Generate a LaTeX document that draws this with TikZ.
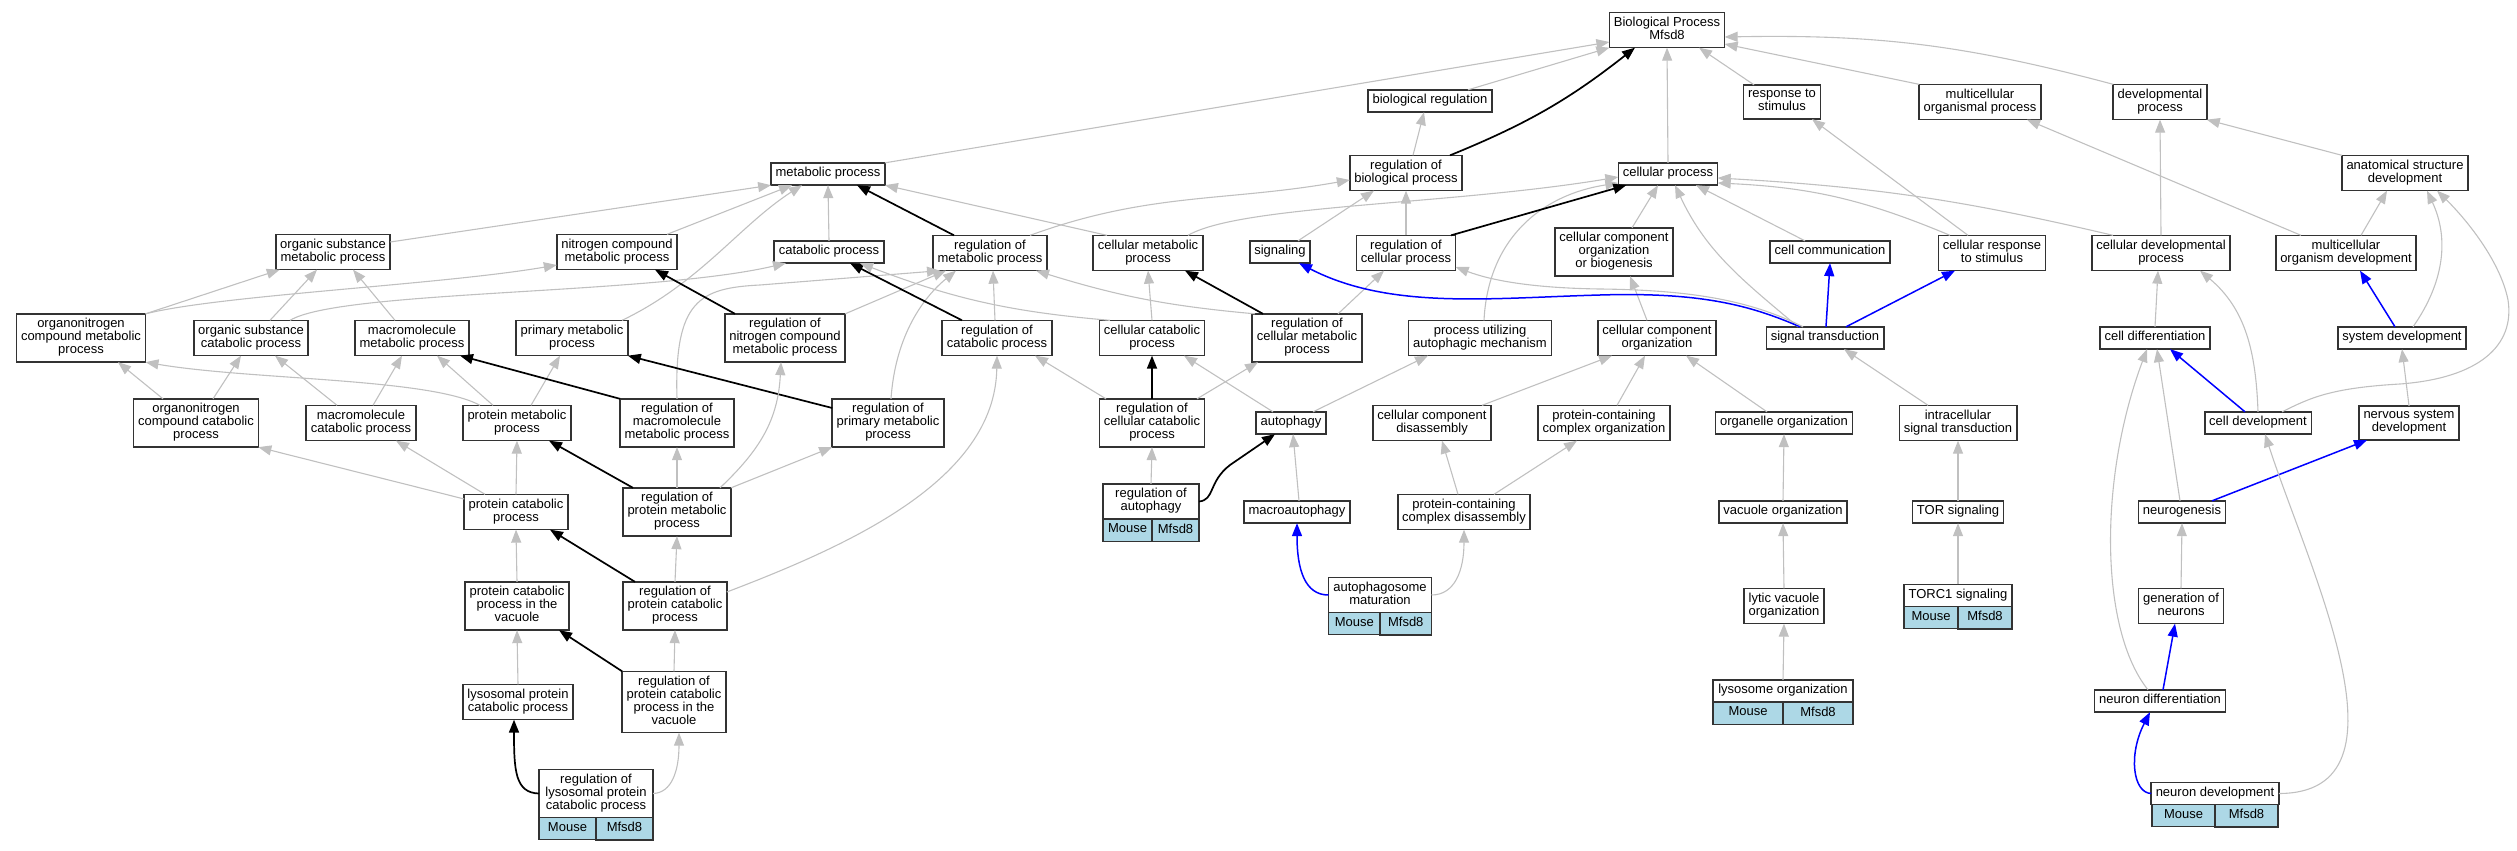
\documentclass[tikz,border=0pt]{standalone}
\usepackage{fontspec}
\setmainfont{Liberation Sans}
\usetikzlibrary{arrows.meta}
\definecolor{isagray}{RGB}{192,192,192}
\definecolor{mouseblue}{RGB}{173,216,230}
\begin{document}
\begin{tikzpicture}[x=1pt, y=1pt,
  term/.style={draw=black!80, line width=1.6pt, fill=white, align=center, inner xsep=4.5pt, inner ysep=4.5pt, outer sep=0pt, font=\fontsize{13}{13}\selectfont, execute at begin node=\strut, execute at end node=\strut},
  cell/.style={draw=black!80, line width=1.3pt, fill=mouseblue, inner xsep=4.5pt, inner ysep=4.5pt, outer sep=0pt, font=\fontsize{13}{13}\selectfont, execute at begin node=\strut},
  isa/.style={draw=isagray, line width=1.1pt, -{Triangle[length=13pt,width=10pt]}},
  reg/.style={draw=black, line width=1.7pt, -{Triangle[length=13pt,width=10pt]}},
  part/.style={draw=blue, line width=1.5pt, -{Triangle[length=13pt,width=10pt]}}]
\useasboundingbox (0,0) rectangle (2517,-851);
% terms
\node[term] (root) at (1667,-30) {Biological Process\\Mfsd8};
\node[term] (bioreg) at (1430,-101) {biological regulation};
\node[term] (rts) at (1782,-102) {response to\\stimulus};
\node[term] (mop) at (1980,-102) {multicellular\\organismal process};
\node[term] (devp) at (2160,-102) {developmental\\process};
\node[term] (mp) at (828,-174) {metabolic process};
\node[term] (rbp) at (1406,-173) {regulation of\\biological process};
\node[term] (cellp) at (1668,-174) {cellular process};
\node[term] (asd) at (2405,-173) {anatomical structure\\development};
\node[term] (osmp) at (333,-252) {organic substance\\metabolic process};
\node[term] (ncmp) at (617,-252) {nitrogen compound\\metabolic process};
\node[term] (cp) at (829,-252) {catabolic process};
\node[term] (rmp) at (990,-253) {regulation of\\metabolic process};
\node[term] (cmp) at (1148,-253) {cellular metabolic\\process};
\node[term] (sig) at (1280,-252) {signaling};
\node[term] (rcellp) at (1406,-253) {regulation of\\cellular process};
\node[term] (ccob) at (1614,-252) {cellular component\\organization\\or biogenesis};
\node[term] (cc) at (1830,-252) {cell communication};
\node[term] (crs) at (1992,-253) {cellular response\\to stimulus};
\node[term] (cdp) at (2161,-253) {cellular developmental\\process};
\node[term] (mod) at (2346,-253) {multicellular\\organism development};
\node[term] (oncmp) at (81,-338) {organonitrogen\\compound metabolic\\process};
\node[term] (oscp) at (251,-338) {organic substance\\catabolic process};
\node[term] (mmp) at (412,-338) {macromolecule\\metabolic process};
\node[term] (pmp) at (572,-338) {primary metabolic\\process};
\node[term] (rncmp) at (785,-338) {regulation of\\nitrogen compound\\metabolic process};
\node[term] (rcp) at (997,-338) {regulation of\\catabolic process};
\node[term] (ccp) at (1152,-338) {cellular catabolic\\process};
\node[term] (rcmp) at (1307,-338) {regulation of\\cellular metabolic\\process};
\node[term] (pua) at (1480,-338) {process utilizing\\autophagic mechanism};
\node[term] (cco) at (1657,-338) {cellular component\\organization};
\node[term] (st) at (1825,-338) {signal transduction};
\node[term] (celldiff) at (2155,-338) {cell differentiation};
\node[term] (sd) at (2402,-338) {system development};
\node[term] (onccp) at (196,-423) {organonitrogen\\compound catabolic\\process};
\node[term] (mcp) at (361,-423) {macromolecule\\catabolic process};
\node[term] (prmp) at (517,-423) {protein metabolic\\process};
\node[term] (rmmp) at (677,-423) {regulation of\\macromolecule\\metabolic process};
\node[term] (rpmp) at (888,-423) {regulation of\\primary metabolic\\process};
\node[term] (rccp) at (1152,-423) {regulation of\\cellular catabolic\\process};
\node[term] (aut) at (1291,-423) {autophagy};
\node[term] (ccd) at (1432,-423) {cellular component\\disassembly};
\node[term] (pcco) at (1604,-423) {protein-containing\\complex organization};
\node[term] (oo) at (1784,-423) {organelle organization};
\node[term] (ist) at (1958,-423) {intracellular\\signal transduction};
\node[term] (celldev) at (2258,-423) {cell development};
\node[term] (nsd) at (2409,-423) {nervous system\\development};
\node[term] (pcp) at (516,-512) {protein catabolic\\process};
\node[term] (rprmp) at (677,-512) {regulation of\\protein metabolic\\process};
\node[term, minimum width=96pt] (raut) at (1151,-501.5) {regulation of\\autophagy};
\node[term] (macro) at (1297,-512) {macroautophagy};
\node[term] (pccd) at (1464,-512) {protein-containing\\complex disassembly};
\node[term] (vo) at (1783,-512) {vacuole organization};
\node[term] (tor) at (1958,-512) {TOR signaling};
\node[term] (ng) at (2182,-512) {neurogenesis};
\node[term] (pcpv) at (517,-606) {protein catabolic\\process in the\\vacuole};
\node[term] (rpcp) at (675,-606) {regulation of\\protein catabolic\\process};
\node[term, minimum width=103pt] (am) at (1380,-595) {autophagosome\\maturation};
\node[term] (lvo) at (1784,-606) {lytic vacuole\\organization};
\node[term, minimum width=108pt] (torc1) at (1958,-595.5) {TORC1 signaling};
\node[term] (gon) at (2181,-606) {generation of\\neurons};
\node[term] (lpcp) at (518,-702) {lysosomal protein\\catabolic process};
\node[term] (rpcpv) at (674,-702) {regulation of\\protein catabolic\\process in the\\vacuole};
\node[term, minimum width=140pt] (lo) at (1783,-691) {lysosome organization};
\node[term] (nd) at (2160,-701) {neuron differentiation};
\node[term, minimum width=114pt] (rlpcp) at (596,-793.5) {regulation of\\lysosomal protein\\catabolic process};
\node[term, minimum width=126pt] (ndev) at (2215,-793.5) {neuron development};
% Mouse / Mfsd8 rows
\node[cell, minimum width=49pt, anchor=north east] (rautm) at ([xshift=1pt]raut.south) {Mouse};
\node[cell, minimum width=47pt, anchor=north west] (rautg) at ([xshift=1pt]raut.south) {Mfsd8};
\node[cell, minimum width=51.5pt, anchor=north east] (amm) at (am.south) {Mouse};
\node[cell, minimum width=51.5pt, anchor=north west] (amg) at (am.south) {Mfsd8};
\node[cell, minimum width=54pt, anchor=north east] (torc1m) at (torc1.south) {Mouse};
\node[cell, minimum width=54pt, anchor=north west] (torc1g) at (torc1.south) {Mfsd8};
\node[cell, minimum width=70pt, anchor=north east] (lom) at (lo.south) {Mouse};
\node[cell, minimum width=70pt, anchor=north west] (log) at (lo.south) {Mfsd8};
\node[cell, minimum width=57pt, anchor=north east] (rlpcpm) at (rlpcp.south) {Mouse};
\node[cell, minimum width=57pt, anchor=north west] (rlpcpg) at (rlpcp.south) {Mfsd8};
\node[cell, minimum width=63pt, anchor=north east] (ndevm) at (ndev.south) {Mouse};
\node[cell, minimum width=63pt, anchor=north west] (ndevg) at (ndev.south) {Mfsd8};
% top
\draw[isa] (mp.north east) -- ([yshift=-12pt]root.west);
\draw[isa] ([xshift=38pt]bioreg.north) -- (root.south west);
\draw[reg] ([xshift=44pt]rbp.north) to[bend right=8] ([xshift=-32pt]root.south);
\draw[isa] (cellp.north) -- (root.south);
\draw[isa] ([xshift=-28pt]rts.north) -- ([xshift=32pt]root.south);
\draw[isa] (mop.north west) -- ([yshift=-14pt]root.east);
\draw[isa] (devp.north west) to[bend right=8] ([yshift=-7pt]root.east);
\draw[isa] ([xshift=7pt]rbp.north) -- ([xshift=-6pt]bioreg.south);
% metabolic process
\draw[isa] ([yshift=10pt]osmp.east) -- (mp.south west);
\draw[isa] ([xshift=50pt]ncmp.north) -- ([xshift=-36pt]mp.south);
\draw[isa] ([xshift=50pt]pmp.north) .. controls (700,-283) and (740,-225) .. ([xshift=-26pt]mp.south);
\draw[isa] (cp.north) -- (mp.south);
\draw[reg] ([xshift=-36pt]rmp.north) -- ([xshift=29pt]mp.south);
\draw[isa] ([xshift=-41pt]cmp.north) -- (mp.south east);
\draw[isa] ([xshift=40pt]rmp.north) to[out=20,in=190] ([yshift=-7pt]rbp.west);
\draw[isa] ([xshift=18pt]sig.north) -- ([xshift=-32pt]rbp.south);
\draw[isa] (rcellp.north) -- (rbp.south);
% cellular process
\draw[isa] ([xshift=40pt]cmp.north) .. controls (1240,-205) and (1450,-205) .. ([yshift=-3pt]cellp.west);
\draw[isa] ([xshift=4pt]pua.north) .. controls (1488,-240) and (1540,-195) .. ([yshift=-9pt]cellp.west);
\draw[reg] ([xshift=45pt]rcellp.north) -- ([xshift=8pt]cellp.south west);
\draw[isa] ([xshift=18pt]ccob.north) -- ([xshift=-10pt]cellp.south);
\draw[isa] ([xshift=-27pt]st.north) to[out=140,in=-65] ([xshift=7pt]cellp.south);
\draw[isa] ([xshift=-25pt]cc.north) -- ([xshift=28pt]cellp.south);
\draw[isa] ([xshift=-42pt]crs.north) to[bend right=10] ([yshift=-9pt]cellp.east);
\draw[isa] ([xshift=-48pt]cdp.north) to[bend right=5] ([yshift=-4pt]cellp.east);
\draw[isa] ([xshift=-24pt]crs.north) -- ([xshift=30pt]rts.south);
% development
\draw[isa] (cdp.north) -- (devp.south);
\draw[isa] ([xshift=-45pt]mod.north) -- ([xshift=47pt]mop.south);
\draw[isa] (asd.north west) -- (devp.south east);
\draw[isa] ([xshift=15pt]mod.north) -- ([xshift=-18pt]asd.south);
\draw[part] ([xshift=-7pt]sd.north) -- ([xshift=14pt]mod.south);
\draw[isa] ([xshift=11pt]sd.north) to[out=55,in=-65] ([xshift=22pt]asd.south);
\draw[isa] ([xshift=24pt]celldev.north) .. controls (2310,-398) and (2330,-388) .. (2400,-384) .. controls (2480,-378) and (2515,-345) .. (2508,-300) .. controls (2500,-260) and (2465,-218) .. ([xshift=32pt]asd.south);
\draw[isa] (celldev.north) to[out=92,in=-40] ([xshift=39pt]cdp.south);
\draw[part] ([xshift=-13pt]celldev.north) -- ([xshift=15pt]celldiff.south);
\draw[isa] (celldiff.north) -- ([xshift=-3pt]cdp.south);
\draw[isa] (nsd.north) -- (sd.south);
\draw[part] ([xshift=30pt]ng.north) -- ([xshift=-42pt]nsd.south);
\draw[isa] ([xshift=-2pt]ng.north) -- ([xshift=2pt]celldiff.south);
\draw[isa] ([xshift=-12pt]nd.north) .. controls (2100,-630) and (2098,-480) .. ([xshift=-8pt]celldiff.south);
\draw[isa] (gon.north) -- (ng.south);
\draw[part] ([xshift=3pt]nd.north) -- ([xshift=-6pt]gon.south);
\draw[part] (ndev.west) .. controls (2133,-793) and (2128,-755) .. ([xshift=-10pt]nd.south);
\draw[isa] (ndev.east) to[out=0,in=-72] ([xshift=7pt]celldev.south);
% organic / nitrogen
\draw[isa] (oncmp.north east) -- ([xshift=4pt]osmp.south west);
\draw[isa] (oncmp.north east) .. controls (220,-295) and (440,-285) .. ([yshift=-13pt]ncmp.west);
\draw[isa] ([xshift=19pt]oscp.north) -- ([xshift=-16pt]osmp.south);
\draw[isa] ([xshift=39pt]oscp.north) .. controls (340,-290) and (650,-295) .. ([xshift=-43pt]cp.south);
\draw[isa] ([xshift=-17pt]mmp.north) -- ([xshift=20pt]osmp.south);
\draw[isa] ([xshift=-33pt]onccp.north) -- ([xshift=37pt]oncmp.south);
\draw[isa] ([xshift=17pt]onccp.north) -- ([xshift=-10pt]oscp.south);
\draw[isa] ([xshift=-24pt]mcp.north) -- ([xshift=24pt]oscp.south);
\draw[isa] ([xshift=12pt]mcp.north) -- ([xshift=-10pt]mmp.south);
\draw[isa] ([xshift=-37pt]prmp.north) .. controls (430,-378) and (250,-380) .. (oncmp.south east);
\draw[isa] ([xshift=-24pt]prmp.north) -- ([xshift=25pt]mmp.south);
\draw[isa] ([xshift=14pt]prmp.north) -- ([xshift=-12pt]pmp.south);
\draw[reg] (rmmp.north west) -- ([xshift=48pt]mmp.south);
\draw[isa] (rmmp.north) .. controls (674,-300) and (700,-288) .. (760,-285) -- ([xshift=-50pt]rmp.south);
\draw[isa] (rncmp.north east) -- ([xshift=-44pt]rmp.south);
\draw[reg] ([xshift=-50pt]rncmp.north) -- ([xshift=38pt]ncmp.south);
\draw[isa] ([xshift=3pt]rpmp.north) .. controls (895,-340) and (920,-300) .. ([xshift=-34pt]rmp.south);
\draw[reg] ([yshift=15pt]rpmp.west) -- (pmp.south east);
% catabolic
\draw[reg] ([xshift=-35pt]rcp.north) -- ([xshift=21pt]cp.south);
\draw[isa] ([xshift=-2pt]rcp.north) -- ([xshift=3pt]rmp.south);
\draw[isa] ([xshift=-42pt]ccp.north) to[bend left=8] ([xshift=31pt]cp.south);
\draw[isa] ([xshift=-52pt]rcmp.north) to[bend left=6] ([xshift=46pt]rmp.south);
\draw[isa] (ccp.north) -- (cmp.south);
\draw[reg] ([xshift=-44pt]rcmp.north) -- ([xshift=37pt]cmp.south);
\draw[isa] ([xshift=31pt]rcmp.north) -- ([xshift=-22pt]rcellp.south);
\draw[reg] (rccp.north) -- (ccp.south);
\draw[isa] ([xshift=-46pt]rccp.north) -- ([xshift=38pt]rcp.south);
\draw[isa] ([xshift=45pt]rccp.north) -- ([xshift=-49pt]rcmp.south);
% autophagy
\draw[isa] ([xshift=-18pt]aut.north) -- ([xshift=32pt]ccp.south);
\draw[isa] ([xshift=22pt]aut.north) -- ([xshift=-52pt]pua.south);
\draw[isa] (raut.north) -- (rccp.south);
\draw[reg] (raut.east) .. controls (1215,-500) and (1208,-482) .. (1230,-465) -- ([xshift=-16pt]aut.south);
\draw[isa] ([xshift=2pt]macro.north) -- ([xshift=2pt]aut.south);
\draw[part] (am.west) .. controls (1305,-595) and (1297,-570) .. (macro.south);
\draw[isa] (am.east) .. controls (1455,-595) and (1464,-570) .. (pccd.south);
% organization
\draw[isa] ([xshift=-6pt]pccd.north) -- ([xshift=10pt]ccd.south);
\draw[isa] ([xshift=30pt]pccd.north) -- ([xshift=-27pt]pcco.south);
\draw[isa] ([xshift=50pt]ccd.north) -- ([xshift=-45pt]cco.south);
\draw[isa] ([xshift=13pt]pcco.north) -- ([xshift=-12pt]cco.south);
\draw[isa] ([xshift=-17pt]oo.north) -- ([xshift=29pt]cco.south);
\draw[isa] (vo.north) -- (oo.south);
\draw[isa] (lvo.north) -- (vo.south);
\draw[isa] (lo.north) -- (lvo.south);
\draw[isa] ([xshift=-10pt]cco.north) -- ([xshift=16pt]ccob.south);
% signalling
\draw[part] ([xshift=-25pt]st.north) .. controls (1750,-305) and (1700,-292) .. (1600,-295) .. controls (1490,-298) and (1390,-310) .. ([xshift=19pt]sig.south);
\draw[part] ([xshift=1pt]st.north) -- (cc.south);
\draw[part] ([xshift=21pt]st.north) -- ([xshift=-37pt]crs.south);
\draw[isa] ([xshift=-22pt]st.north) .. controls (1750,-300) and (1690,-290) .. (1600,-289) .. controls (1530,-288) and (1490,-280) .. ([yshift=-14pt]rcellp.east);
\draw[isa] ([xshift=-30pt]ist.north) -- ([xshift=19pt]st.south);
\draw[isa] (tor.north) -- (ist.south);
\draw[isa] (torc1.north) -- (tor.south);
% protein
\draw[isa] (pcp.north) -- (prmp.south);
\draw[isa] ([xshift=-31pt]pcp.north) -- ([xshift=35pt]mcp.south);
\draw[isa] ([yshift=13pt]pcp.west) -- (onccp.south east);
\draw[reg] ([xshift=-44pt]rprmp.north) -- ([xshift=32pt]prmp.south);
\draw[isa] (rprmp.north) -- (rmmp.south);
\draw[isa] (rprmp.north east) -- (rpmp.south west);
\draw[isa] ([xshift=43pt]rprmp.north) .. controls (760,-450) and (778,-420) .. ([xshift=-4pt]rncmp.south);
\draw[isa] (pcpv.north) -- (pcp.south);
\draw[reg] ([xshift=-40pt]rpcp.north) -- ([xshift=34pt]pcp.south);
\draw[isa] (rpcp.north) -- (rprmp.south);
\draw[isa] ([yshift=14pt]rpcp.east) .. controls (850,-545) and (995,-480) .. (rcp.south);
\draw[isa] (lpcp.north) -- (pcpv.south);
\draw[isa] (rpcpv.north) -- (rpcp.south);
\draw[reg] (rpcpv.north west) -- ([xshift=42pt]pcpv.south);
\draw[reg] (rlpcp.west) .. controls (515,-793) and (514,-770) .. ([xshift=-4pt]lpcp.south);
\draw[isa] (rlpcp.east) .. controls (672,-793) and (679,-770) .. ([xshift=5pt]rpcpv.south);
\end{tikzpicture}
\end{document}
